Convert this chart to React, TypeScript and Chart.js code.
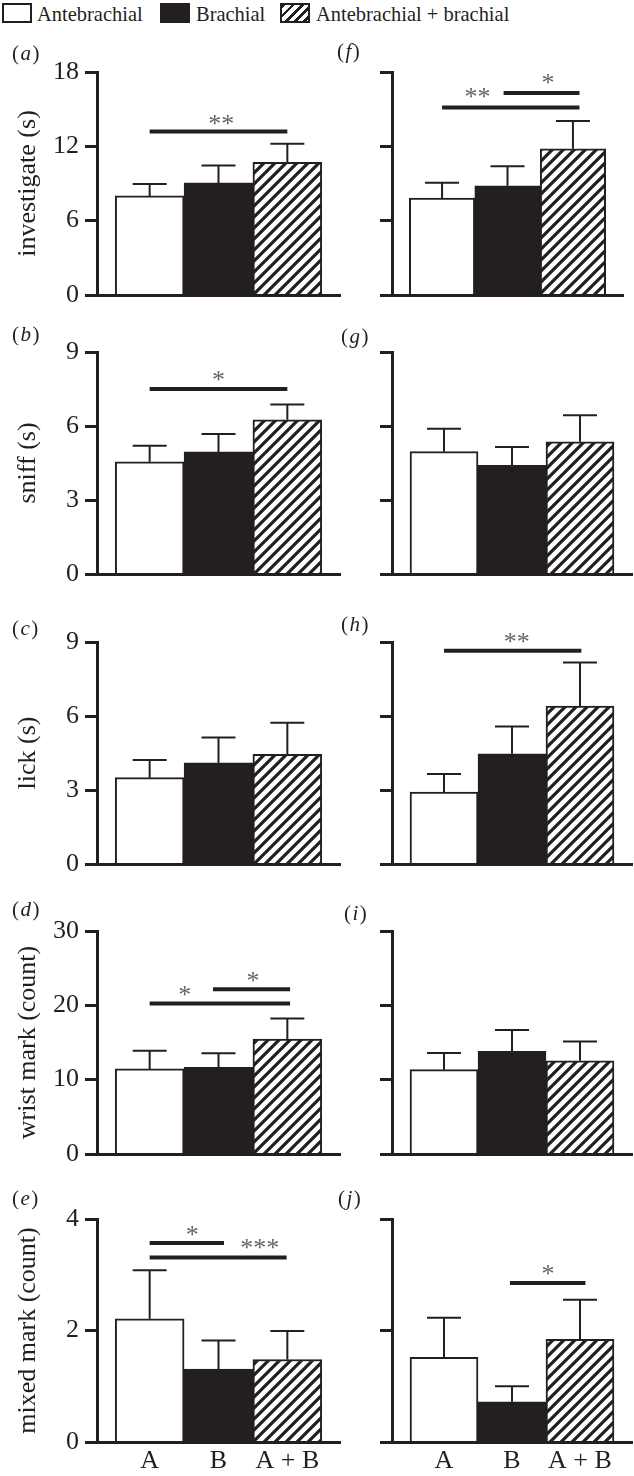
import React, { useEffect, useRef } from 'react';
import { Chart, registerables } from 'chart.js';

Chart.register(...registerables);

// ---------- data ----------
const categories = ['A', 'B', 'A + B'];
const seriesNames = ['Antebrachial', 'Brachial', 'Antebrachial + brachial'];

const yTitles = ['investigate (s)', 'sniff (s)', 'lick (s)', 'wrist mark (count)', 'mixed mark (count)'];
const yMaxes = [18, 9, 9, 30, 4];
const yTickSteps = [6, 3, 3, 10, 2];

// means (bar heights) and upper error (SEM) for each panel
const aMeans = [8.0, 9.05, 10.7];
const aErrors = [0.95, 1.4, 1.5];
const bMeans = [4.55, 4.95, 6.25];
const bErrors = [0.65, 0.73, 0.62];
const cMeans = [3.5, 4.1, 4.45];
const cErrors = [0.72, 1.03, 1.28];
const dMeans = [11.45, 11.65, 15.45];
const dErrors = [2.43, 1.92, 2.77];
const eMeans = [2.21, 1.31, 1.48];
const eErrors = [0.87, 0.51, 0.51];

const fMeans = [7.83, 8.82, 11.8];
const fErrors = [1.23, 1.57, 2.24];
const gMeans = [4.96, 4.41, 5.36];
const gErrors = [0.93, 0.74, 1.08];
const hMeans = [2.92, 4.47, 6.4];
const hErrors = [0.73, 1.1, 1.77];
const iMeans = [11.35, 13.8, 12.54];
const iErrors = [2.25, 2.88, 2.61];
const jMeans = [1.52, 0.72, 1.84];
const jErrors = [0.71, 0.28, 0.71];

// significance brackets: from / to (category index), level (value), stars, star position
type Sig = { from: number; to: number; at: number; stars: string; labelX: number; labelAt: number };
const aSigs: Sig[] = [{ from: 0, to: 2, at: 13.2, stars: '**', labelX: 1.04, labelAt: 14.2 }];
const bSigs: Sig[] = [{ from: 0, to: 2, at: 7.5, stars: '*', labelX: 1.0, labelAt: 8.04 }];
const cSigs: Sig[] = [];
const dSigs: Sig[] = [
  { from: 0, to: 2.04, at: 20.24, stars: '*', labelX: 0.51, labelAt: 22.08 },
  { from: 0.92, to: 2.04, at: 22.17, stars: '*', labelX: 1.5, labelAt: 23.97 },
];
const eSigs: Sig[] = [
  { from: 0, to: 1.08, at: 3.57, stars: '*', labelX: 0.62, labelAt: 3.79 },
  { from: 0, to: 1.99, at: 3.31, stars: '***', labelX: 1.6, labelAt: 3.56 },
];
const fSigs: Sig[] = [
  { from: 0, to: 2.1, at: 15.14, stars: '**', labelX: 0.54, labelAt: 16.33 },
  { from: 0.94, to: 2.1, at: 16.3, stars: '*', labelX: 1.62, labelAt: 17.5 },
];
const gSigs: Sig[] = [];
const hSigs: Sig[] = [{ from: 0, to: 2.02, at: 8.65, stars: '**', labelX: 1.07, labelAt: 9.21 }];
const iSigs: Sig[] = [];
const jSigs: Sig[] = [{ from: 0.97, to: 2.08, at: 2.85, stars: '*', labelX: 1.53, labelAt: 3.1 }];

// ---------- styles / layout ----------
const INK = '#231f20';
const FONT = '"Liberation Serif", "Times New Roman", serif';
const X_MIN = -0.765;
const X_MAX = 2.765;
const PAD_TOP = 30;
const ROWS = [
  { top: 72, zero: 295 },
  { top: 352, zero: 574 },
  { top: 642, zero: 864 },
  { top: 931, zero: 1154 },
  { top: 1219, zero: 1442 },
];

type PanelSpec = {
  id: string;
  col: 0 | 1;
  row: number;
  means: number[];
  errors: number[];
  sigs: Sig[];
  padRight?: number;
};

const panels: PanelSpec[] = [
  { id: 'a', col: 0, row: 0, means: aMeans, errors: aErrors, sigs: aSigs },
  { id: 'b', col: 0, row: 1, means: bMeans, errors: bErrors, sigs: bSigs },
  { id: 'c', col: 0, row: 2, means: cMeans, errors: cErrors, sigs: cSigs },
  { id: 'd', col: 0, row: 3, means: dMeans, errors: dErrors, sigs: dSigs },
  { id: 'e', col: 0, row: 4, means: eMeans, errors: eErrors, sigs: eSigs },
  { id: 'f', col: 1, row: 0, means: fMeans, errors: fErrors, sigs: fSigs, padRight: 11 },
  { id: 'g', col: 1, row: 1, means: gMeans, errors: gErrors, sigs: gSigs },
  { id: 'h', col: 1, row: 2, means: hMeans, errors: hErrors, sigs: hSigs },
  { id: 'i', col: 1, row: 3, means: iMeans, errors: iErrors, sigs: iSigs },
  { id: 'j', col: 1, row: 4, means: jMeans, errors: jErrors, sigs: jSigs },
];

function makeHatch(): CanvasPattern | string {
  const s = 11;
  const c = document.createElement('canvas');
  c.width = s;
  c.height = s;
  const g = c.getContext('2d');
  if (!g) return '#888';
  g.fillStyle = '#fff';
  g.fillRect(0, 0, s, s);
  g.strokeStyle = INK;
  g.lineWidth = 3.2;
  g.beginPath();
  g.moveTo(-1, s + 1);
  g.lineTo(s + 1, -1);
  g.moveTo(-s / 2 - 1, s / 2 + 1);
  g.lineTo(s / 2 + 1, -s / 2 - 1);
  g.moveTo(s / 2 - 1, s * 1.5 + 1);
  g.lineTo(s * 1.5 + 1, s / 2 - 1);
  g.stroke();
  return g.createPattern(c, 'repeat') || '#888';
}

const STAR_SIZE = 26;

function Panel({ spec }: { spec: PanelSpec }) {
  const ref = useRef<HTMLCanvasElement>(null);
  const isLeft = spec.col === 0;
  const isBottom = spec.row === ROWS.length - 1;
  const row = ROWS[spec.row];
  const bottomH = isBottom ? 42 : 26;
  const canvasLeft = isLeft ? 0 : 330;
  const width = isLeft ? 345 : 304;
  const yW = isLeft ? 97 : 62;
  const padRight = spec.padRight ?? (isLeft ? 5 : 2);
  const top = row.top - PAD_TOP;
  const height = row.zero - row.top + PAD_TOP + bottomH;

  useEffect(() => {
    const canvas = ref.current;
    if (!canvas) return;
    const hatch = makeHatch();
    const overlay = {
      id: 'errorsAndSignificance',
      afterDatasetsDraw(chart: any) {
        const { ctx } = chart;
        const xs = chart.scales.x;
        const ys = chart.scales.y;
        ctx.save();
        ctx.strokeStyle = INK;
        ctx.lineWidth = 2;
        ctx.lineCap = 'butt';
        spec.means.forEach((m, i) => {
          const px = xs.getPixelForValue(i);
          const y0 = ys.getPixelForValue(m);
          const y1 = ys.getPixelForValue(m + spec.errors[i]);
          ctx.beginPath();
          ctx.moveTo(px, y0);
          ctx.lineTo(px, y1);
          ctx.moveTo(px - 17, y1);
          ctx.lineTo(px + 17, y1);
          ctx.stroke();
        });
        spec.sigs.forEach((s) => {
          const yy = ys.getPixelForValue(s.at);
          ctx.lineWidth = 4;
          ctx.strokeStyle = INK;
          ctx.beginPath();
          ctx.moveTo(xs.getPixelForValue(s.from), yy);
          ctx.lineTo(xs.getPixelForValue(s.to), yy);
          ctx.stroke();
          ctx.fillStyle = '#666';
          ctx.font = `${STAR_SIZE}px ${FONT}`;
          ctx.textAlign = 'center';
          ctx.textBaseline = 'alphabetic';
          ctx.fillText(s.stars, xs.getPixelForValue(s.labelX), ys.getPixelForValue(s.labelAt) + 0.49 * STAR_SIZE);
        });
        ctx.restore();
      },
    };

    const chart = new Chart(canvas, {
      type: 'bar',
      data: {
        datasets: [
          {
            label: seriesNames.join(' / '),
            data: spec.means.map((v, i) => ({ x: i, y: v })),
            backgroundColor: ['#ffffff', INK, hatch as any],
            borderColor: INK,
            borderWidth: 2,
            barPercentage: 1,
            categoryPercentage: 1,
          } as any,
        ],
      },
      options: {
        animation: false,
        responsive: false,
        maintainAspectRatio: false,
        events: [],
        layout: { padding: { top: PAD_TOP, right: padRight, left: 0, bottom: 0 } },
        plugins: { legend: { display: false }, tooltip: { enabled: false }, title: { display: false } },
        scales: {
          x: {
            type: 'linear',
            min: X_MIN,
            max: X_MAX,
            offset: false,
            grid: { display: false, drawTicks: false },
            border: { display: true, color: INK, width: 3, z: 1 },
            afterBuildTicks: (s: any) => {
              s.ticks = categories.map((_, i) => ({ value: i }));
            },
            afterFit: (s: any) => {
              s.height = bottomH;
            },
            ticks: {
              display: isBottom,
              autoSkip: false,
              maxRotation: 0,
              padding: 4,
              color: INK,
              font: { family: FONT, size: 26 },
              callback: (v: any) => categories[v as number] ?? '',
            },
          },
          y: {
            min: 0,
            max: yMaxes[spec.row],
            grid: { drawOnChartArea: false, drawTicks: true, tickLength: 12, tickWidth: 3, tickColor: INK, z: 1 },
            border: { display: true, color: INK, width: 3, z: 1 },
            afterFit: (s: any) => {
              s.width = yW;
            },
            ticks: {
              display: isLeft,
              stepSize: yTickSteps[spec.row],
              padding: 6,
              color: INK,
              font: { family: FONT, size: 26 },
            },
            title: {
              display: isLeft,
              text: yTitles[spec.row],
              color: INK,
              font: { family: FONT, size: 26 },
              padding: { top: 13, bottom: 0 },
            },
          },
        } as any,
      },
      plugins: [overlay],
    });
    return () => chart.destroy();
  }, []);

  return (
    <canvas
      ref={ref}
      width={width}
      height={height}
      style={{ position: 'absolute', left: canvasLeft, top, width, height }}
    />
  );
}

const panelLabelPos: Record<string, { left: number; top: number }> = {
  a: { left: 12, top: 43 },
  b: { left: 12, top: 324 },
  c: { left: 12, top: 618 },
  d: { left: 12, top: 899 },
  e: { left: 12, top: 1188 },
  f: { left: 337, top: 41 },
  g: { left: 341, top: 326 },
  h: { left: 341, top: 614 },
  i: { left: 344, top: 903 },
  j: { left: 338, top: 1188 },
};

const textStyle: React.CSSProperties = {
  position: 'absolute',
  fontFamily: FONT,
  color: INK,
  whiteSpace: 'nowrap',
  lineHeight: 1,
};

export default function App() {
  const swatch = (left: number, bg: string): React.CSSProperties => ({
    position: 'absolute',
    left,
    top: 3,
    width: 30,
    height: 20,
    boxSizing: 'border-box',
    border: `2px solid ${INK}`,
    background: bg,
  });
  const hatchCss = `repeating-linear-gradient(135deg, ${INK} 0px, ${INK} 2.6px, #fff 2.6px, #fff 6.5px)`;
  return (
    <div style={{ position: 'absolute', left: 0, top: 0, width: 634, height: 1476, background: '#fff', overflow: 'hidden' }}>
      <div style={swatch(2, '#fff')} />
      <div style={{ ...textStyle, left: 37, top: 3, fontSize: 22, transform: 'scaleX(0.93)', transformOrigin: 'left' }}>{seriesNames[0]}</div>
      <div style={swatch(160, INK)} />
      <div style={{ ...textStyle, left: 196, top: 3, fontSize: 22, transform: 'scaleX(0.93)', transformOrigin: 'left' }}>{seriesNames[1]}</div>
      <div style={swatch(280, hatchCss)} />
      <div style={{ ...textStyle, left: 316, top: 3, fontSize: 22, transform: 'scaleX(0.93)', transformOrigin: 'left' }}>{seriesNames[2]}</div>
      {panels.map((p) => (
        <Panel key={p.id} spec={p} />
      ))}
      {panels.map((p) => (
        <div key={'lbl' + p.id} style={{ ...textStyle, left: panelLabelPos[p.id].left, top: panelLabelPos[p.id].top, fontSize: 21, letterSpacing: 1.5 }}>
          (<i>{p.id}</i>)
        </div>
      ))}
    </div>
  );
}
